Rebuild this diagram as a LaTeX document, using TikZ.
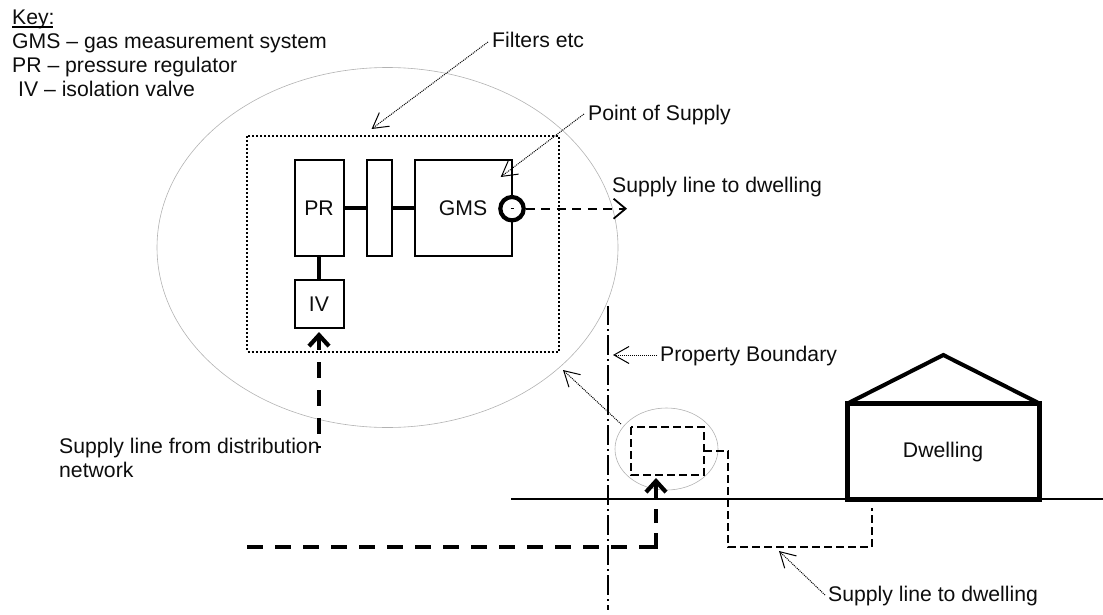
\documentclass[tikz,border=0pt]{standalone}
\usepackage{fontspec}
\setmainfont{Liberation Sans}
\usetikzlibrary{arrows.meta}
\tikzset{
  x=1pt,y=-1pt,
  lbl/.style={inner sep=0pt,anchor=base west,font=\fontsize{21.2}{24}\selectfont,text=black!95},
  ctr/.style={inner sep=0pt,anchor=base,font=\fontsize{21.2}{24}\selectfont,text=black!95},
  halo/.style={draw=black!30,line width=.6pt},
  boxline/.style={draw,line width=2pt},
  link/.style={line width=4pt},
  thindash/.style={line width=1.9pt,dash pattern=on 8pt off 4pt},
  leader/.style={line width=1pt,dash pattern=on 1pt off 1pt,-{Straight Barb[length=15pt,width=17pt,line width=1pt,sep=0pt]}},
  feed/.style={line width=4.2pt,dash pattern=on 16pt off 12pt},
  thickhead/.style={line width=4.2pt,-{Straight Barb[length=11pt,width=20pt,line width=4.2pt]}},
}
\begin{document}
\begin{tikzpicture}
\useasboundingbox (0,0) rectangle (1103,615);
% key
\node[lbl] (keyh) at (12,25) {Key:};
\draw[line width=1.2pt] (keyh.base west) ++(0,2) -- ++(41,0);
\node[lbl] (k1) at (12,49) {GMS – gas measurement system};
\node[lbl] (k2) at (12,73) {PR – pressure regulator};
\node[lbl] (k3) at (18,97) {IV – isolation valve};
% enlarged view
\coordinate (bigc) at (387.5,247.5);
\draw[halo] (bigc) ellipse [x radius=230.5,y radius=180];
\draw[line width=2pt,dash pattern=on 2pt off 2pt] (247.3,136) rectangle (559,351.7);
\draw[boxline] (295,160) rectangle (343.5,256);
\node[ctr] (pr) at (319,215) {PR};
\draw[boxline] (367,160) rectangle (392,256);
\draw[boxline] (415,160) rectangle (511.7,256);
\node[ctr] (gms) at (463,215) {GMS};
\draw[boxline] (295,280) rectangle (343.5,328);
\node[ctr] (iv) at (319,311) {IV};
\draw[link] (343.5,208) -- (367,208);
\draw[link] (392,208) -- (415,208);
\draw[link] (319,256) -- (319,280);
\node[draw,circle,line width=4.2pt,fill=white,minimum size=23.4pt,inner sep=0pt,outer sep=2.1pt] (pos) at (512,208.7) {};
\draw[line width=1.4pt] (510.5,208.7) -- (513.5,208.7);
\coordinate (supa) at (627,208.7);
\draw[line width=1.8pt,dash pattern=on 9pt off 6.5pt,-{Straight Barb[length=12pt,width=20pt,line width=1.8pt]}] (pos) -- (supa);
\node[lbl] (t1) at (612,193) {Supply line to dwelling};
\node[lbl] (t2) at (492,48) {Filters etc};
\node[lbl] (t3) at (588,121) {Point of Supply};
\node[lbl] (t4) at (660,361) {Property Boundary};
\node[lbl] (t5) at (59,453) {Supply line from distribution};
\node[lbl] (t5b) at (59,477) {network};
\node[lbl] (t6) at (828,601) {Supply line to dwelling};
% leaders
\coordinate (fa) at (371.6,129);
\coordinate (pa) at (500.7,177);
\coordinate (ba) at (613,355);
\coordinate (ca) at (563,370);
\coordinate (da) at (779,551);
\coordinate (fs) at (488,42);
\coordinate (ps) at (584,114);
\coordinate (bs) at (657,355);
\coordinate (cs) at (621,424);
\coordinate (ds) at (825,595);
\draw[leader] (fs) -- (fa);
\draw[leader] (ps) -- (pa);
\draw[leader] (bs) -- (ba);
\draw[leader] (cs) -- (ca);
\draw[leader] (ds) -- (da);
% boundary
\draw[line width=1.7pt,dash pattern=on 20pt off 4pt on 1.5pt off 4.5pt,dash phase=1pt] (607.7,306) -- (607.7,610);
% ground
\draw[line width=1.8pt] (511,499.2) -- (1103,499.2);
% small view
\draw[halo] (666.5,449) ellipse [x radius=51.5,y radius=41];
\draw[thindash] (631,427) rectangle (704,475);
\draw[thindash] (704,451) -- (728,451) -- (728,547) -- (871.7,547) -- (871.7,508);
% dwelling
\draw[line width=5pt,line join=miter,fill=white] (847.5,499) -- (847.5,403.5) -- (1039.5,403.5) -- (1039.5,499) -- cycle;
\node[ctr] (t7) at (943,457) {Dwelling};
\draw[line width=4pt] (847.5,403.5) -- (943.3,355) -- (1039.5,403.5);
% supply feeds
\draw[feed,dash phase=13.5pt] (319,448) -- (319,340);
\draw[thickhead] (319,345) -- (319,332);
\draw[feed] (247,547) -- (656,547);
\draw[feed,dash pattern=on 16pt off 10pt] (656,549) -- (656,509);
\draw[thickhead] (656,499) -- (656,478);
\end{tikzpicture}
\end{document}
